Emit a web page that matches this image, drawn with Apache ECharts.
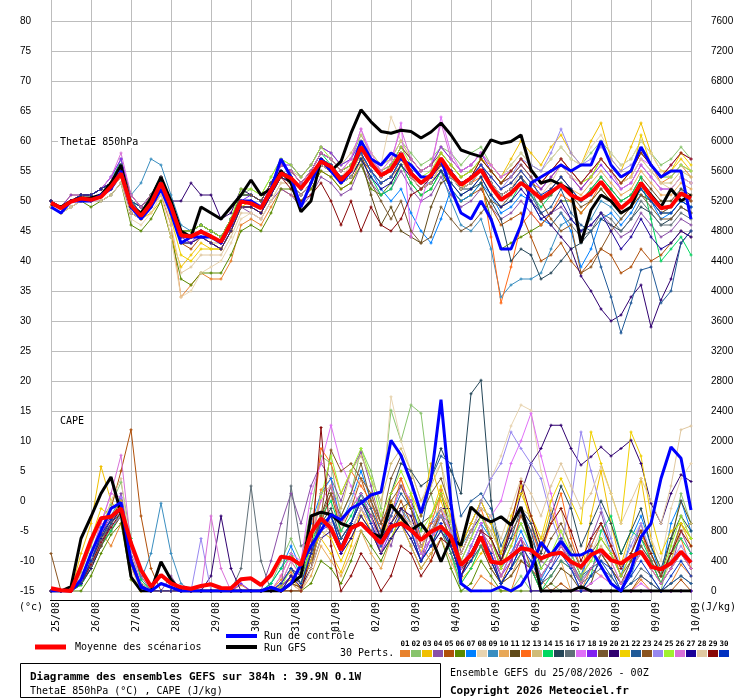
<!DOCTYPE html>
<html>
<head>
<meta charset="utf-8">
<script src="https://cdn.jsdelivr.net/npm/echarts@6/dist/echarts.min.js"></script>
<style>
  html, body { margin: 0; padding: 0; background: #fff; }
  #main { width: 740px; height: 700px; }
</style>
</head>
<body>
<div id="main"></div>
<script>
// GEFS ensemble, 65 steps of 6h (0..384h)
const dayLabels = ['25/08','26/08','27/08','28/08','29/08','30/08','31/08','01/09','02/09',
  '03/09','04/09','05/09','06/09','07/09','08/09','09/09','10/09'];

const pertColors = ['#e8822e','#88c46c','#f0c000','#8a4fa8','#b0500a','#5a8a00','#0080ff','#e8d4b0',
  '#3a8ec0','#e8a858','#604a18','#ff6a18','#d0bc78','#00d860','#244658','#607078','#e070f8','#8020f0',
  '#785830','#300070','#f0d000','#205a98','#8a5420','#9888f0','#a0f030','#d870d8','#1a0098','#e0c8a0',
  '#880808','#0030c0'];

// ThetaE 850hPa (°C)
const thetaMean = [49.7,48.8,49.9,50.4, 50.2,50.7,52.4,54.6, 49.3,47.5,49.6,53.0, 49.1,44.3,44.1,44.9,
  44.1,43.2,46.3,49.9, 49.6,48.8,51.8,54.6, 53.8,52.1,54.3,56.6, 55.7,53.5,55.2,59.0, 56.3,54.3,55.2,57.9,
  54.6,53.0,54.3,57.1, 54.6,52.7,53.8,55.2, 52.4,50.2,51.3,53.0, 51.8,50.4,51.5,52.7, 51.0,50.2,51.3,53.2,
  51.0,48.8,50.2,53.0, 50.7,48.8,49.1,51.3, 50.4];
const thetaCtrl = [49,48,50,50, 50,51,52,55, 49,47,49,52, 48,43,44,44, 44,43,46,50, 50,49,52,57,
  54,49,53,57, 55,53,55,60, 57,56,58,57, 56,54,54,57, 52,48,47,50, 47,42,42,46, 53,54,55,56,
  55,56,56,60, 56,54,55,59, 56,54,55,55, 47];
const thetaGfs = [49.5,49,50,50.5, 50.5,51,53,56, 49,48,50.5,54, 50,45,44,49, 48,47,49,51, 53.5,51,52,55,
  53,48.2,50,57, 55,56.6,61.3,65.2, 63.2,61.6,61.3,61.8, 61.6,60.5,61.5,63, 61,58.5,57.9,57.4,
  60.2,59.6,59.9,61, 55.2,53,53.5,52.7, 51.8,43,48.5,51, 50,48,49,53, 51,49,52,50, 51];
const thetaPerts = [
  [49,48,50,50, 50,51,52,54, 48,47,49,51, 46,34,36,38, 37,37,40,46, 47,46,49,52, 51,50,52,55, 54,52,53,57, 55,53,54,57, 54,52,53,56, 54,52,54,56, 54,52,53,55, 53,52,54,56, 54,52,54,57, 55,53,55,58, 56,53,54,56, 54],
  [50,49,50,51, 51,52,53,56, 50,49,51,54, 50,45,45,46, 45,44,47,51, 52,51,54,57, 56,54,56,59, 58,56,57,61, 58,56,57,60, 58,56,57,59, 58,56,58,59, 56,54,56,58, 56,55,57,59, 57,56,58,60, 58,56,57,60, 58,56,57,59, 57],
  [50,49,51,51, 51,52,53,56, 49,47,48,50, 44,39,41,43, 42,42,45,49, 49,48,51,54, 53,51,53,56, 55,53,54,58, 55,53,54,57, 54,52,53,56, 54,52,54,57, 56,54,57,60, 58,56,59,61, 58,56,60,63, 57,55,59,63, 58,55,55,57, 55],
  [49,48,49,50, 50,50,51,53, 48,47,49,52, 48,44,43,44, 43,42,45,49, 48,47,50,52, 51,49,51,54, 53,51,52,56, 53,51,52,55, 52,50,51,54, 51,49,50,52, 49,47,48,50, 48,46,48,49, 47,45,46,48, 46,44,45,48, 46,44,45,47, 46],
  [50,49,50,50, 50,51,52,55, 50,48,49,52, 48,43,42,44, 43,42,45,49, 49,48,51,54, 53,51,53,56, 55,53,54,57, 55,53,54,56, 54,52,53,55, 52,50,51,52, 49,46,47,48, 44,40,41,43, 40,38,40,42, 41,38,39,42, 40,41,43,45, 44],
  [49,48,49,50, 49,50,51,53, 46,45,47,50, 44,37,36,38, 38,38,41,45, 46,45,48,52, 52,50,52,55, 54,52,53,56, 52,51,53,56, 53,51,52,55, 52,50,51,53, 47,42,43,44, 45,46,48,50, 50,48,50,52, 50,48,49,52, 50,48,48,50, 49],
  [50,49,50,51, 51,52,53,55, 50,48,50,53, 49,43,44,45, 44,43,46,50, 50,49,52,55, 54,52,54,57, 56,54,55,58, 55,52,50,52, 48,45,43,47, 52,50,51,53, 51,48,49,51, 50,47,46,48, 45,39,42,47, 48,46,48,51, 50,47,48,50, 49],
  [49,48,49,50, 50,50,51,53, 47,46,48,51, 44,34,35,38, 39,40,43,47, 48,47,50,53, 53,51,53,56, 55,54,56,60, 58,56,64,60, 57,55,56,59, 57,55,56,58, 56,54,56,58, 56,55,57,59, 57,56,59,61, 58,56,57,60, 58,55,54,56, 55],
  [50,49,50,51, 51,52,54,56, 51,53,57,56, 51,46,45,46, 45,44,47,51, 51,50,53,55, 54,52,54,57, 56,54,55,58, 55,53,54,57, 55,53,53,55, 50,46,45,47, 42,34,36,37, 37,38,42,46, 47,45,47,50, 49,47,49,52, 50,48,49,52, 50],
  [50,49,50,51, 50,51,52,55, 49,48,50,53, 49,44,44,45, 44,43,46,50, 50,49,52,55, 54,52,54,57, 56,54,55,59, 56,54,55,58, 55,53,54,57, 55,53,54,56, 53,51,52,54, 52,50,52,54, 52,51,53,55, 53,51,52,55, 53,51,51,53, 52],
  [50,49,50,50, 50,51,52,54, 48,47,49,52, 48,43,43,44, 43,42,45,49, 49,48,51,54, 53,51,53,56, 55,53,54,57, 51,46,49,45, 44,43,49,53, 54,52,53,55, 53,51,52,54, 52,50,52,54, 52,50,52,54, 52,50,51,54, 52,50,50,52, 51],
  [50,49,50,51, 51,52,53,55, 50,48,50,53, 49,44,44,45, 44,43,46,50, 50,49,52,55, 54,52,54,57, 56,54,55,59, 56,54,55,58, 55,53,54,57, 55,52,53,54, 44,33,39,46, 48,46,48,51, 50,48,50,53, 51,49,50,53, 51,49,49,51, 50],
  [50,49,50,50, 50,51,52,54, 49,48,50,52, 48,43,43,44, 43,43,46,49, 50,49,52,56, 55,54,56,59, 58,56,58,61, 58,56,57,60, 57,55,56,59, 57,55,56,58, 56,54,55,57, 55,53,55,57, 55,53,55,57, 55,53,54,57, 55,53,53,55, 54],
  [50,49,50,51, 51,52,53,57, 50,49,51,54, 50,45,45,46, 45,44,47,51, 51,50,53,56, 55,53,55,58, 56,53,54,57, 54,51,52,56, 53,51,52,55, 53,51,52,54, 51,49,50,53, 51,49,51,53, 51,50,52,54, 52,50,51,54, 47,40,42,44, 41],
  [50,49,50,51, 51,52,53,56, 50,48,50,53, 49,44,44,45, 44,43,46,50, 50,49,52,55, 54,52,54,57, 56,54,55,59, 56,54,55,58, 55,53,54,56, 54,52,52,53, 50,47,40,42, 41,37,38,40, 42,43,45,47, 46,45,47,49, 48,46,47,49, 48],
  [50,49,50,50, 50,51,52,54, 49,48,50,53, 49,45,45,46, 45,44,47,50, 50,49,52,55, 54,52,54,57, 56,54,55,58, 55,53,54,57, 55,53,54,56, 54,52,53,55, 53,51,52,54, 52,48,46,48, 46,44,45,48, 47,45,47,50, 48,46,46,48, 47],
  [50,49,50,51, 51,52,54,57, 50,48,50,53, 49,44,44,45, 44,43,46,50, 50,49,52,56, 55,53,55,58, 57,55,57,62, 58,55,56,63, 44,50,55,64, 58,55,56,58, 56,54,55,57, 55,53,55,57, 55,53,55,57, 55,53,54,57, 56,54,56,58, 57],
  [50,49,51,51, 51,52,54,57, 51,49,51,54, 50,44,43,45, 44,43,46,50, 51,50,53,56, 56,54,56,59, 58,56,57,60, 57,55,56,59, 57,55,56,59, 57,55,56,58, 55,53,54,56, 54,52,54,56, 54,52,54,56, 54,52,53,56, 54,52,52,54, 53],
  [50,49,50,50, 50,51,52,55, 49,48,50,53, 49,44,44,45, 44,43,46,50, 50,49,52,55, 54,52,54,57, 56,54,55,58, 53,50,47,50, 45,43,44,49, 47,45,46,48, 50,49,51,53, 52,50,51,53, 51,49,50,52, 50,48,49,51, 49,47,47,49, 48],
  [50,49,50,51, 51,52,53,56, 50,49,51,54, 50,50,53,51, 51,47,48,52, 51,50,53,56, 55,53,55,58, 57,55,56,59, 56,54,55,57, 55,53,54,57, 55,53,54,56, 53,51,52,54, 50,48,46,44, 42,37.5,35,32, 30,31,34,36, 29,33.5,37,43, 45],
  [50,49,50,51, 51,52,53,56, 50,48,50,53, 47,41,40,42, 42,42,45,49, 50,49,52,55, 54,52,54,57, 56,54,55,59, 56,54,55,58, 55,53,54,58, 56,54,55,57, 55,53,55,57, 55,53,55,57, 55,53,54,57, 55,53,54,61, 56,54,55,58, 56],
  [50,49,50,51, 51,52,53,56, 50,49,51,54, 50,45,45,46, 45,44,47,51, 51,50,53,55, 54,52,54,57, 56,54,55,58, 55,53,54,57, 55,53,54,56, 54,52,53,55, 53,51,52,54, 51,48,49,52, 48,46,45,39, 34,28,33,38.5, 39,33,35,43, 45],
  [50,49,50,51, 51,52,53,56, 51,49,51,54, 50,45,45,46, 45,44,47,51, 51,50,53,56, 55,53,55,58, 57,55,56,59, 56,54,56,59, 57,55,56,58, 56,54,55,57, 55,53,54,56, 54,50,47,45, 46,38,39,42, 45,47,49,51, 50,48,49,51, 50],
  [50,49,50,51, 51,52,53,56, 50,48,50,53, 49,44,44,45, 44,43,46,50, 50,49,52,55, 54,52,54,57, 56,54,55,59, 56,54,55,58, 55,53,54,57, 55,53,54,56, 54,52,54,57, 56,55,58,62, 58,56,57,59, 57,55,56,58, 56,54,54,56, 55],
  [50,49,50,51, 51,52,53,56, 50,48,51,54, 50,45,45,46, 45,44,47,52, 52,51,54,57, 56,54,56,59, 57,55,56,60, 57,55,56,59, 56,54,55,58, 56,54,55,57, 55,53,55,57, 55,53,55,57, 55,53,54,57, 55,53,55,58, 56,54,54,56, 55],
  [50,49,50,51, 51,52,54,58, 51,49,51,54, 50,44,44,45, 44,43,46,50, 50,49,52,56, 55,53,55,58, 57,55,57,62, 57,55,57,62, 57,55,56,63, 57,55,56,58, 56,54,55,57, 55,53,55,57, 55,53,55,57, 55,52,53,56, 54,52,52,54, 53],
  [50,49,50,51, 51,52,53,55, 49,48,50,52, 48,43,43,44, 43,42,45,49, 49,48,51,54, 53,51,53,56, 55,53,54,57, 54,52,53,56, 54,52,53,55, 53,51,52,54, 51,49,50,52, 50,47,48,50, 47,45,46,48, 45,42,44,47, 44,42,43,45, 44],
  [49,48,49,50, 50,51,52,54, 48,47,49,52, 46,38,39,41, 41,41,44,48, 48,47,50,53, 53,51,53,56, 55,53,54,58, 55,53,54,57, 54,52,53,56, 54,52,53,55, 53,51,52,55, 53,51,53,56, 54,53,55,57, 55,53,54,57, 55,53,52,54, 53],
  [50,49,50,51, 51,52,53,55, 49,48,50,53, 49,44,44,45, 44,43,46,50, 50,49,52,54, 52,50,51,53, 50,46,50,45, 49,46,45,47, 51,52,54,56, 55,53,54,57, 55,53,55,57, 55,53,55,57, 55,53,55,57, 55,53,55,58, 56,54,56,58, 57],
  [50,49,50,51, 51,52,53,56, 50,48,50,53, 49,44,44,45, 44,43,46,50, 50,49,52,55, 54,52,54,57, 56,54,55,58, 55,53,54,57, 55,53,54,57, 55,53,54,56, 54,52,53,55, 53,51,52,54, 52,50,51,53, 51,49,50,52, 50,48,48,50, 49]
];

// CAPE (J/kg)
const capeMean = [36,10,0,324, 680,969,991,1102, 636,280,58,213, 102,49,30,67, 89,40,36,156, 169,80,213,458,
  436,347,769,969, 836,547,836,902, 769,636,858,902, 813,680,791,858, 725,347,480,725, 391,369,458,569,
  547,436,489,511, 391,324,480,547, 413,369,458,524, 324,289,369,524, 378];
const capeCtrl = [0,0,0,150, 500,800,1100,1180, 400,50,0,100, 50,0,0,0, 0,0,0,0, 0,0,50,0,
  100,350,600,810, 1020,950,1100,1170, 1280,1320,2010,1810, 1450,1040,1480,2550, 1170,100,0,0, 0,60,0,80,
  300,650,480,660, 480,480,550,330, 100,0,280,720, 900,1500,1920,1770, 1080];
const capeGfs = [0,0,60,700, 990,1300,1520,1040, 190,0,0,390, 150,0,0,0, 0,0,0,0, 0,0,0,0,
  100,200,1000,1050, 1020,900,850,900, 770,720,1150,990, 810,900,720,390, 700,610,1120,990, 920,990,880,1120,
  640,0,0,0, 0,60,0,0, 0,0,0,0, 0,0,0,0, 0];
const capePerts = [
  [0,0,0,200, 450,780,600,900, 300,60,0,0, 0,0,0,0, 0,0,0,80, 0,0,0,150, 250,100,600,1350, 1500,700,900,1200, 900,600,1000,1500, 1100,600,400,1350, 700,100,0,200, 100,0,0,400, 300,150,0,0, 0,0,300,200, 100,0,0,150, 0,0,100,350, 200],
  [0,0,0,250, 600,950,1150,1450, 700,150,0,0, 0,0,0,0, 0,0,0,0, 0,0,100,400, 700,400,1100,1800, 1700,1000,1300,1900, 1600,1100,2410,2000, 2480,2370,1300,800, 500,0,0,0, 0,0,0,200, 0,0,100,0, 0,0,0,0, 0,0,0,0, 0,0,600,1300, 900],
  [0,0,0,500, 900,1660,1200,1000, 350,0,0,0, 0,0,0,0, 0,0,0,0, 0,0,0,80, 150,50,300,700, 500,250,600,1100, 800,500,1200,900, 1300,1000,1700,1200, 800,150,300,500, 700,300,900,1400, 900,600,1100,700, 400,150,1000,1600, 900,350,800,1500, 700,200,400,900, 600],
  [0,0,0,100, 350,700,900,1300, 600,200,0,0, 200,0,0,0, 0,0,0,0, 0,0,400,900, 1300,900,1400,1700, 1500,1200,1600,1850, 1400,900,600,1100, 800,400,900,1000, 700,200,600,900, 400,100,300,1100, 900,400,300,600, 350,100,700,1050, 600,300,500,900, 400,100,300,800, 500],
  [0,0,0,100, 400,700,1100,1600, 2150,1000,300,0, 0,0,0,0, 0,0,0,0, 0,0,0,0, 100,0,300,900, 1300,800,1100,1500, 1100,700,900,1200, 900,500,700,1100, 600,200,500,800, 500,100,400,700, 300,0,0,100, 0,0,0,0, 0,0,0,200, 100,0,0,150, 0],
  [0,0,0,0, 200,500,750,900, 150,0,0,0, 0,0,0,0, 0,0,0,0, 0,0,0,0, 0,0,100,400, 300,100,400,800, 600,400,700,900, 600,300,500,700, 300,0,100,400, 200,0,0,0, 0,0,0,0, 0,0,0,0, 0,0,0,0, 0,0,0,0, 0],
  [0,0,0,150, 450,850,1000,1250, 500,100,0,0, 0,0,0,0, 0,0,0,0, 0,0,100,300, 600,300,900,1300, 1500,900,1200,1600, 1200,800,1000,1400, 1200,700,900,1100, 900,300,600,900, 700,300,500,800, 500,150,400,700, 500,200,600,900, 500,200,700,1000, 600,200,900,1200, 800],
  [0,0,0,100, 300,600,800,1000, 300,0,0,0, 0,0,0,0, 0,0,0,0, 0,0,0,100, 300,200,500,900, 1100,800,1200,1500, 1300,1000,2590,2000, 1600,1200,1500,1700, 1200,600,900,1200, 1500,1800,2200,2480, 2410,1600,1100,800, 400,100,500,800, 500,300,700,900, 700,400,1100,1500, 1700],
  [0,0,0,100, 350,650,850,1000, 400,150,500,1170, 500,100,0,0, 0,0,0,0, 0,0,0,100, 300,100,400,800, 1000,700,900,1300, 1000,700,900,1100, 900,500,700,1000, 900,600,800,1100, 1000,400,700,900, 600,200,400,700, 400,150,300,500, 300,100,200,600, 400,100,300,500, 300],
  [0,0,0,150, 400,700,900,1150, 400,50,0,0, 0,0,0,0, 0,0,0,0, 0,0,0,50, 200,0,200,600, 400,200,500,800, 500,300,700,900, 600,300,500,700, 400,100,300,600, 300,100,200,500, 300,100,200,400, 0,0,0,0, 0,0,0,0, 0,0,0,0, 0],
  [0,0,0,80, 300,600,800,1000, 350,50,0,0, 0,0,0,0, 0,0,0,0, 0,0,0,0, 100,50,400,1000, 1400,900,1100,1300, 1000,600,800,1100, 1200,900,1000,1300, 800,300,400,600, 300,100,200,400, 300,0,100,300, 200,0,100,500, 300,100,400,700, 500,200,700,1200, 900],
  [0,0,0,120, 400,700,900,1050, 450,80,0,0, 0,0,0,0, 0,0,0,0, 0,0,0,200, 500,300,700,1900, 1700,1300,1600,1400, 1200,800,1300,1500, 1100,700,900,1300, 1000,500,800,1100, 700,300,600,1000, 800,500,900,1300, 700,300,600,900, 600,200,500,800, 400,100,500,700, 300],
  [0,0,0,100, 350,650,850,1000, 400,50,0,0, 0,0,0,0, 0,0,0,0, 0,0,0,100, 400,200,700,1300, 1400,1100,1600,1800, 1500,1200,1700,1900, 1600,1200,1400,1700, 900,400,700,1000, 800,500,900,1100, 1000,700,900,1100, 500,200,400,600, 400,100,300,500, 300,100,400,800, 900],
  [0,0,0,80, 300,600,800,1050, 700,150,0,0, 0,0,0,0, 0,0,0,0, 0,0,100,300, 500,200,600,1000, 1200,800,1000,1300, 900,500,700,1000, 800,400,600,900, 500,100,300,600, 400,100,300,500, 300,0,200,400, 300,0,200,800, 1000,500,800,700, 400,100,500,700, 500],
  [0,0,0,100, 400,750,950,1200, 500,100,0,0, 0,0,0,0, 0,0,0,0, 0,0,0,50, 200,100,500,900, 1100,700,900,1200, 1000,700,1300,1700, 1600,1400,1500,1900, 1600,1300,2630,2810, 1200,400,700,1100, 900,500,1000,1400, 1100,600,900,1200, 900,500,800,1100, 600,300,700,1000, 800],
  [0,0,0,100, 400,700,850,1000, 400,50,0,0, 0,0,0,0, 0,0,0,300, 1400,400,0,0, 1400,600,700,900, 800,500,700,1000, 800,500,700,900, 700,400,600,800, 500,200,400,600, 400,100,300,500, 300,100,200,400, 300,100,200,300, 200,0,100,300, 200,0,100,200, 100],
  [0,0,0,200, 500,900,1300,1250, 500,100,0,0, 0,0,0,0, 0,0,0,0, 0,0,0,200, 500,400,1300,1700, 2210,1700,1400,1100, 900,500,1000,1400, 1200,600,800,1100, 800,300,600,900, 1000,1200,1700,2000, 2370,1800,1300,700, 300,0,100,200, 100,0,0,100, 0,0,0,0, 0],
  [0,0,0,100, 400,750,1000,1200, 500,100,0,0, 0,0,0,0, 0,0,0,100, 0,0,0,50, 200,100,400,800, 900,500,800,1100, 900,500,800,1000, 800,400,700,900, 600,200,500,800, 500,200,400,700, 0,0,0,0, 0,0,0,0, 0,0,0,0, 0,0,0,0, 0],
  [0,0,0,100, 350,650,900,1100, 450,80,0,0, 0,0,0,0, 0,0,0,0, 0,0,0,0, 200,100,500,1000, 1300,1000,1300,1700, 1200,900,1500,1800, 1500,1000,1300,1500, 1100,600,900,1200, 900,500,800,1000, 700,400,700,900, 600,300,500,700, 500,200,400,600, 400,200,500,900, 700],
  [0,0,0,100, 300,600,900,1100, 400,50,0,0, 0,0,0,0, 200,1000,300,0, 0,0,0,100, 300,200,500,900, 1000,600,900,1200, 1000,700,900,1100, 1000,600,800,1100, 1100,500,800,1000, 700,400,800,1300, 1700,1900,2210,2210, 1900,1680,1790,1920, 1800,1900,2010,1700, 1170,900,1300,1550, 1460],
  [0,0,0,300, 700,1100,1000,1200, 400,0,0,0, 0,0,0,0, 0,0,0,0, 0,0,0,100, 300,100,400,800, 700,400,700,1000, 800,500,700,1000, 900,500,1000,1400, 1000,600,900,1200, 900,500,1000,1300, 1000,700,1200,1500, 1200,900,2120,1700, 1300,900,2120,1800, 1000,500,800,900, 700],
  [0,0,0,120, 400,700,900,1050, 400,50,0,0, 0,0,0,0, 0,0,0,0, 0,0,0,100, 300,100,500,900, 1000,700,900,1300, 1100,800,1000,1300, 1100,800,1500,1800, 1700,1000,1200,1300, 1100,600,900,1100, 800,300,500,700, 500,200,300,400, 200,0,100,200, 100,0,100,200, 100],
  [500,0,0,100, 350,600,850,1000, 400,100,0,0, 0,0,0,0, 0,0,0,0, 0,0,0,0, 100,50,300,1000, 1880,1600,1700,1500, 1300,900,1200,1400, 1100,600,800,1000, 700,300,500,800, 600,200,500,700, 500,200,400,600, 400,100,300,500, 300,100,300,500, 300,100,300,500, 300],
  [0,0,0,100, 350,650,850,1000, 400,50,0,0, 0,0,0,700, 0,0,0,0, 0,0,0,100, 300,100,500,900, 900,600,800,1100, 900,600,800,1000, 800,500,700,1000, 800,400,700,1200, 1500,1700,2120,1900, 1700,1500,1000,600, 1200,2120,1600,1100, 700,300,600,900, 500,200,400,600, 400],
  [0,0,0,150, 400,700,950,1100, 450,100,0,0, 0,0,0,0, 0,0,0,0, 0,0,0,50, 300,100,600,1250, 1800,1300,1600,1900, 1500,1000,1300,1600, 1300,800,1000,1300, 900,400,700,1000, 700,300,600,900, 600,300,500,800, 500,200,400,700, 500,200,500,800, 500,200,600,1000, 700],
  [0,0,0,150, 500,900,1300,1810, 600,100,0,0, 0,0,0,0, 1000,300,0,0, 0,0,0,100, 400,200,700,1200, 1400,900,1100,1300, 1000,600,800,1000, 900,500,700,900, 700,300,500,800, 600,200,500,700, 500,200,400,600, 400,100,300,500, 400,100,300,500, 300,100,300,500, 300],
  [0,0,0,100, 400,700,950,1100, 400,80,0,0, 0,0,0,0, 0,0,0,0, 0,0,0,0, 200,50,300,700, 800,500,700,1000, 800,500,700,900, 700,400,600,800, 600,200,500,700, 400,100,300,600, 0,0,0,0, 0,0,0,0, 0,0,0,0, 0,0,0,0, 0],
  [0,0,0,200, 450,800,1200,1500, 500,100,0,0, 0,0,0,0, 0,0,0,0, 0,0,0,0, 100,0,300,700, 900,600,800,1100, 900,600,800,1000, 900,600,800,1100, 900,500,800,1100, 1000,700,1100,1500, 1300,1000,1400,1700, 1400,1100,1300,1660, 1300,900,1200,1500, 1200,900,1400,2150, 2200],
  [0,0,0,100, 350,650,850,1050, 400,50,0,0, 0,0,0,0, 0,0,0,0, 0,0,0,0, 0,0,500,2180, 600,0,200,500, 300,0,200,600, 500,200,400,700, 600,200,500,800, 700,400,900,1460, 1000,600,900,1100, 800,400,700,900, 600,300,500,800, 500,200,500,800, 600],
  [0,0,0,100, 400,750,950,1150, 450,80,0,0, 0,0,0,0, 0,0,0,0, 0,0,0,100, 300,100,500,900, 1000,600,900,1200, 900,600,800,1000, 800,400,600,900, 600,200,400,700, 500,100,300,600, 400,100,300,500, 300,0,200,400, 300,0,200,400, 200,0,200,400, 200]
];

const STEP_H = 6;
const N = 65;
[thetaMean, thetaCtrl, thetaGfs, capeMean, capeCtrl, capeGfs].concat(thetaPerts, capePerts).forEach(function (a, k) {
  if (a.length !== N) throw new Error('array ' + k + ' has ' + a.length + ' values');
});

function pairs(arr) {
  return arr.map(function (v, i) { return [i * STEP_H, v]; });
}

const MONO = 'DejaVu Sans Mono';
const plus = 'path://M1,0H2V1H3V2H2V3H1V2H0V1H1Z';

var series = [];
function pert(arr, k, yIdx) {
  series.push({
    type: 'line', xAxisIndex: 0, yAxisIndex: yIdx, data: pairs(arr),
    symbol: plus, symbolSize: 3, showSymbol: true,
    lineStyle: { width: 1, color: pertColors[k] }, itemStyle: { color: pertColors[k] },
    silent: true, z: 2
  });
}
thetaPerts.forEach(function (a, k) { pert(a, k, 0); });
capePerts.forEach(function (a, k) { pert(a, k, 1); });

function main(arr, yIdx, color, w, z) {
  series.push({
    type: 'line', xAxisIndex: 0, yAxisIndex: yIdx, data: pairs(arr), showSymbol: false,
    lineStyle: { width: w, color: color }, silent: true, z: z
  });
}
main(thetaGfs, 0, '#000000', 3, 3);
main(capeGfs, 1, '#000000', 3, 3);
main(thetaCtrl, 0, '#0000ff', 3, 4);
main(capeCtrl, 1, '#0000ff', 3, 4);
main(thetaMean, 0, '#ff0000', 4, 5);
main(capeMean, 1, '#ff0000', 4, 5);

// legend & texts
function txt(x, y, s, size, bold, align, bg) {
  var st = { text: s, fill: '#000', font: (bold ? 'bold ' : '') + size + 'px "' + MONO + '"',
    align: align || 'left', verticalAlign: 'middle' };
  if (bg) { st.backgroundColor = '#ffffff'; st.padding = [1, 2]; }
  return { type: 'text', x: x, y: y, silent: true, z: 10, style: st };
}
function seg(x1, x2, y, color, w) {
  return { type: 'line', silent: true, z: 10, shape: { x1: x1, y1: y, x2: x2, y2: y }, style: { stroke: color, lineWidth: w } };
}
var graphics = [
  txt(58, 142, 'ThetaE 850hPa', 10, false, 'left', true),
  txt(58, 421, 'CAPE', 10, false, 'left', true),
  seg(50, 651, 600.5, '#000000', 1),
  txt(19, 607, '(°c)', 10),
  txt(700, 607, '(J/kg)', 10),
  seg(35, 66, 647, '#ff0000', 5),
  txt(75, 647, 'Moyenne des scénarios', 10),
  seg(226, 257, 636, '#0000ff', 4),
  txt(264, 636, 'Run de contrôle', 10),
  seg(226, 257, 647, '#000000', 4),
  txt(264, 648, 'Run GFS', 10),
  txt(340, 653, '30 Perts.', 10),
  { type: 'rect', silent: true, shape: { x: 20.5, y: 663.5, width: 420, height: 34 }, style: { fill: '#fff', stroke: '#000', lineWidth: 1 } },
  txt(30, 677, 'Diagramme des ensembles GEFS sur 384h : 39.9N 0.1W', 11, true),
  txt(30, 691, 'ThetaE 850hPa (°C) , CAPE (J/kg)', 10),
  txt(450, 673, 'Ensemble GEFS du 25/08/2026 - 00Z', 10),
  txt(450, 691, 'Copyright 2026 Meteociel.fr', 11, true)
];
pertColors.forEach(function (c, k) {
  var x = 400 + k * 11;
  graphics.push(txt(x + 5, 644, String(k + 1).padStart(2, '0'), 7.5, true, 'center'));
  graphics.push({ type: 'rect', silent: true, shape: { x: x, y: 650, width: 10, height: 7 }, style: { fill: c } });
});

var chart = echarts.init(document.getElementById('main'), null, { renderer: 'canvas' });
chart.setOption({
  animation: false,
  backgroundColor: '#ffffff',
  grid: [
    { left: 51, right: 49, top: 21, bottom: 109 },
    { left: 51, right: 49, top: 0, bottom: 100 }
  ],
  xAxis: [
    {
      gridIndex: 0, type: 'value', min: 0, max: 384, interval: 24,
      axisLine: { show: false }, axisTick: { show: false }, splitLine: { show: false },
      axisLabel: {
        rotate: 90, margin: 11, verticalAlign: 'top', color: '#000',
        fontFamily: MONO, fontSize: 10,
        formatter: function (v) { return dayLabels[Math.round(v / 24)] || ''; }
      }
    },
    {
      gridIndex: 1, type: 'value', min: 0, max: 384, interval: 24,
      axisLine: { show: false }, axisTick: { show: false }, axisLabel: { show: false },
      splitLine: { show: true, lineStyle: { color: '#bdbdbd', width: 1 } }
    }
  ],
  yAxis: [
    {
      gridIndex: 0, type: 'value', min: -15, max: 80, interval: 5,
      axisLine: { show: false }, axisTick: { show: false },
      axisLabel: { align: 'left', margin: 31, color: '#000', fontFamily: 'Liberation Sans', fontSize: 10 },
      splitLine: { show: true, lineStyle: { color: '#bdbdbd', width: 1 } }
    },
    {
      gridIndex: 0, type: 'value', position: 'right', min: 0, max: 7600, interval: 400,
      axisLine: { show: false }, axisTick: { show: false }, splitLine: { show: false },
      axisLabel: { margin: 20, color: '#000', fontFamily: 'Liberation Sans', fontSize: 10,
        formatter: function (v) { return String(v); } }
    },
    { gridIndex: 1, type: 'value', min: 0, max: 1, show: false }
  ],
  graphic: graphics,
  series: series
});
</script>
</body>
</html>
